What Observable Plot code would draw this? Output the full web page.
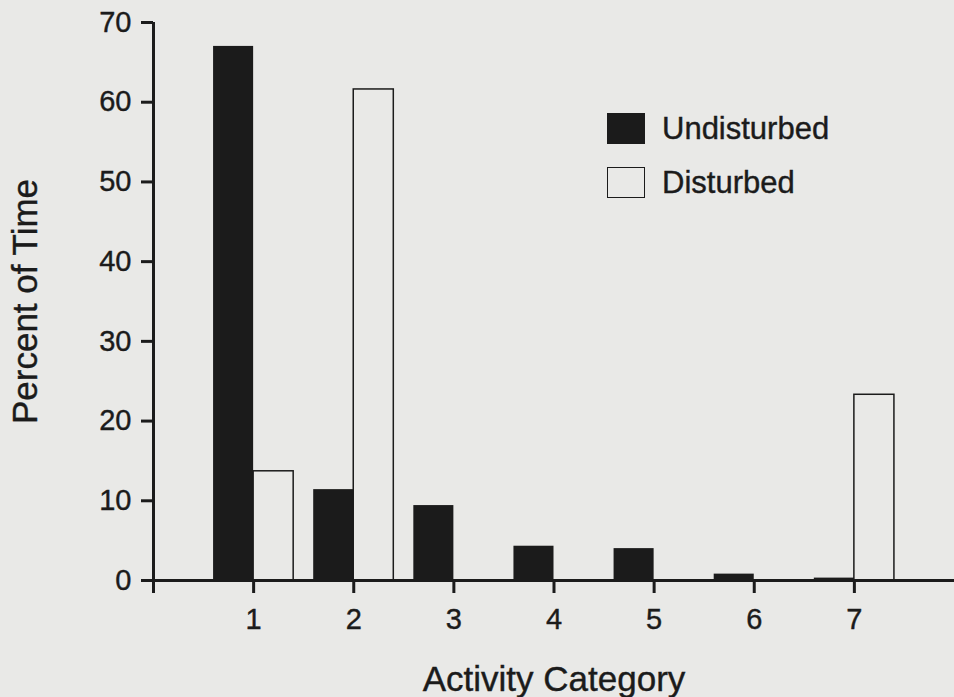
<!DOCTYPE html>
<html>
<head>
<meta charset="utf-8">
<script src="https://cdn.jsdelivr.net/npm/d3@7"></script>
<script src="https://cdn.jsdelivr.net/npm/@observablehq/plot@0.6"></script>
<style>
  html, body { margin: 0; padding: 0; background: #e9e9e7; }
  #wrap { position: relative; width: 954px; height: 697px; font-family: "Liberation Sans", Arial, sans-serif; color: #1b1b1b; }
  .legend { position: absolute; left: 607px; top: 110px; font-size: 31px; line-height: 1; -webkit-text-stroke: 0.4px #1b1b1b; }
  .legend .row { display: flex; align-items: center; height: 36px; margin-bottom: 18px; }
  .legend .sw { width: 38px; height: 31px; box-sizing: border-box; margin-right: 17px; }
  svg text { stroke: #1b1b1b; stroke-width: 0.4px; }
</style>
</head>
<body>
<div id="wrap"></div>
<script>
const categories = [1, 2, 3, 4, 5, 6, 7];
const undisturbed = [67.0, 11.4, 9.4, 4.3, 4.0, 0.8, 0.3];
const disturbed = [13.7, 61.6, 0, 0, 0, 0, 23.3];
const yTicks = [0, 10, 20, 30, 40, 50, 60, 70];
const xTicks = [0, 1, 2, 3, 4, 5, 6, 7];
const seriesNames = ["Undisturbed", "Disturbed"];

const barHalf = 0.4;
const rowsU = categories.map((c, i) => ({cat: c, value: undisturbed[i]}));
const rowsD = categories.map((c, i) => ({cat: c, value: disturbed[i]})).filter(d => d.value > 0);

const ink = "#1b1b1b";

const chart = Plot.plot({
  width: 954,
  height: 697,
  marginLeft: 153,
  marginRight: 0,
  marginTop: 22,
  marginBottom: 117,
  style: {background: "transparent", fontFamily: "'Liberation Sans', Arial, sans-serif", color: ink, overflow: "visible"},
  x: {domain: [0, 8]},
  y: {domain: [0, 70]},
  marks: [
    Plot.rectY(rowsU, {x1: d => d.cat - barHalf, x2: d => d.cat, y1: 0, y2: "value", fill: ink}),
    Plot.rectY(rowsD, {x1: d => d.cat, x2: d => d.cat + barHalf, y1: 0, y2: "value", fill: "none", stroke: ink, strokeWidth: 1.5}),
    Plot.ruleY([0], {stroke: ink, strokeWidth: 3}),
    Plot.ruleX([0], {y1: 0, y2: 70, stroke: ink, strokeWidth: 3}),
    Plot.axisY({ticks: yTicks, tickSize: 12, tickPadding: 10, strokeWidth: 3, stroke: ink, fontSize: 29,
      label: "Percent of Time", labelAnchor: "center", labelArrow: "none", labelOffset: 141}),
    Plot.axisX({ticks: xTicks, tickSize: 13, tickPadding: 15, strokeWidth: 3, stroke: ink, fontSize: 29,
      tickFormat: d => d === 0 ? "" : String(d),
      label: "Activity Category", labelAnchor: "center", labelArrow: "none", labelOffset: 110})
  ]
});
chart.querySelectorAll("g[aria-label='y-axis label'], g[aria-label='x-axis label']").forEach(g => g.setAttribute("font-size", 35));
chart.querySelectorAll("g[aria-label='y-axis label'] text, g[aria-label='x-axis label'] text").forEach(t => t.setAttribute("font-size", 35));

const wrap = document.getElementById("wrap");
wrap.appendChild(chart);

const legend = document.createElement("div");
legend.className = "legend";
const swatchStyles = [
  `background:${ink};`,
  `background:transparent;border:1.5px solid ${ink};`
];
seriesNames.forEach((name, i) => {
  const row = document.createElement("div");
  row.className = "row";
  const sw = document.createElement("div");
  sw.className = "sw";
  sw.setAttribute("style", swatchStyles[i]);
  const label = document.createElement("span");
  label.textContent = name;
  row.appendChild(sw);
  row.appendChild(label);
  legend.appendChild(row);
});
wrap.appendChild(legend);
</script>
</body>
</html>
